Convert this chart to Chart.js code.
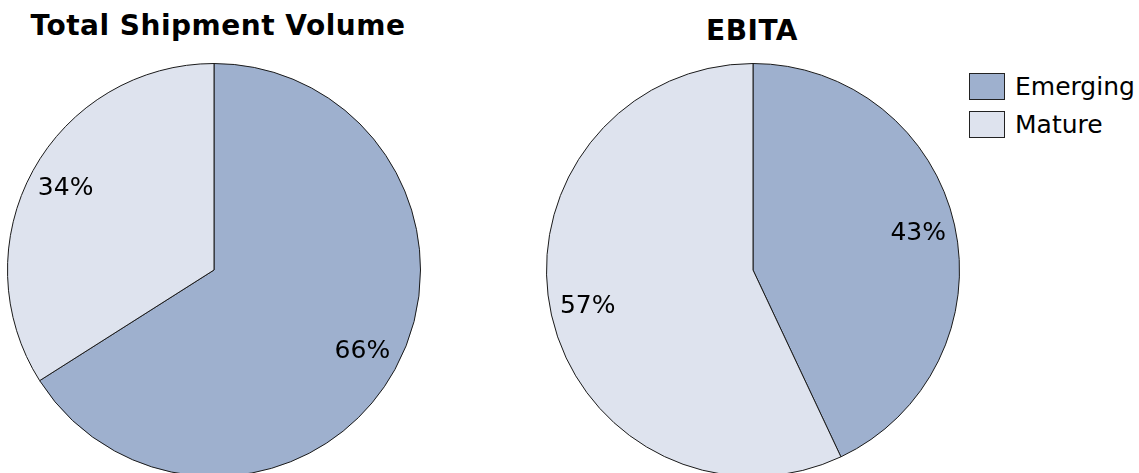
<!DOCTYPE html>
<html>
<head>
<meta charset="utf-8">
<script src="https://cdn.jsdelivr.net/npm/chart.js@4.4.1/dist/chart.umd.min.js"></script>
<style>
  html, body { margin: 0; padding: 0; background: #fff; overflow: hidden; }
  body { width: 1139px; height: 473px; position: relative; font-family: "DejaVu Sans", Verdana, sans-serif; }
  .title { position: absolute; font-weight: bold; font-size: 28px; line-height: 28px; color: #000; text-align: center; white-space: nowrap; letter-spacing: 0.5px; }
  canvas { position: absolute; }
  #legend { position: absolute; left: 969px; top: 73px; font-size: 25px; color: #000; }
  #legend div { display: flex; align-items: center; height: 27px; margin-bottom: 11px; }
  #legend span.box { display: inline-block; width: 34px; height: 25px; border: 1px solid #222; margin-right: 10px; }
</style>
</head>
<body>
<div class="title" style="left:18px; top:12px; width:400px;">Total Shipment Volume</div>
<div class="title" style="left:652px; top:17px; width:200px;">EBITA</div>
<canvas id="shipmentChart" width="414" height="414" style="left:7px; top:63px;"></canvas>
<canvas id="ebitaChart" width="414" height="414" style="left:546px; top:63px;"></canvas>
<div id="legend"></div>
<script>
const segments = ['Emerging', 'Mature'];
const shipmentShare = [66, 34];
const ebitaShare = [43, 57];
const segmentColors = ['#9eb0ce', '#dee3ee'];

// percentage text inside each slice
const sliceLabels = {
    id: 'sliceLabels',
    afterDatasetsDraw(chart) {
        const ctx = chart.ctx;
        const values = chart.data.datasets[0].data;
        const total = values.reduce((a, b) => a + b, 0);
        chart.getDatasetMeta(0).data.forEach((arc, i) => {
            const p = arc.getProps(['x', 'y', 'startAngle', 'endAngle', 'outerRadius'], true);
            const mid = (p.startAngle + p.endAngle) / 2;
            const r = p.outerRadius * 0.82;
            ctx.save();
            ctx.font = '25px "DejaVu Sans", Verdana, sans-serif';
            ctx.fillStyle = '#000';
            ctx.textAlign = 'center';
            ctx.textBaseline = 'middle';
            ctx.fillText(Math.round(values[i] / total * 100) + '%', p.x + Math.cos(mid) * r, p.y + Math.sin(mid) * r);
            ctx.restore();
        });
    }
};

function makePie(id, values) {
    new Chart(document.getElementById(id), {
        type: 'pie',
        data: {
            labels: segments,
            datasets: [{
                data: values,
                backgroundColor: segmentColors,
                borderColor: '#1a1a1a',
                borderWidth: 1,
            }],
        },
        options: {
            responsive: false,
            animation: false,
            layout: { padding: 0 },
            plugins: {
                legend: { display: false },
                tooltip: { enabled: false },
            },
        },
        plugins: [sliceLabels],
    });
}

makePie('shipmentChart', shipmentShare);
makePie('ebitaChart', ebitaShare);

const legend = document.getElementById('legend');
segments.forEach((name, i) => {
    const row = document.createElement('div');
    row.innerHTML = '<span class="box" style="background:' + segmentColors[i] + '"></span>' + name;
    legend.appendChild(row);
});
</script>
</body>
</html>
